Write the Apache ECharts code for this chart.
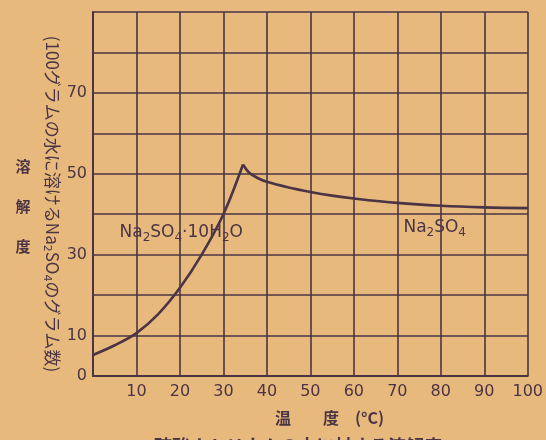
<!DOCTYPE html>
<html>
<head>
<meta charset="utf-8">
<script src="https://cdn.jsdelivr.net/npm/echarts@6/dist/echarts.min.js"></script>
<style>
html,body{margin:0;padding:0;background:#e8b97c;}
#c{width:546px;height:440px;}
</style>
</head>
<body>
<div id="c"></div>
<script>
// Data
const hydrateTemps = [0, 5, 10, 15, 20, 25, 30, 34.5];
const hydrateSolubility = [5.2, 7.6, 10.6, 15.3, 21.8, 30.0, 40.0, 52.3];
const anhydrousTemps = [34.5, 36, 38, 40, 45, 50, 55, 60, 70, 80, 90, 100];
const anhydrousSolubility = [52.3, 50.2, 48.9, 48.0, 46.6, 45.5, 44.6, 43.9, 42.8, 42.1, 41.7, 41.5];
const xTickLabels = ['10', '20', '30', '40', '50', '60', '70', '80', '90', '100'];
const yTickLabels = ['0', '10', '30', '50', '70'];
const hydrateLabelPos = [20.3, 35.4];
const anhydrousLabelPos = [78.6, 36.6];

const ink = '#4a3445';
const chart = echarts.init(document.getElementById('c'), null, {renderer: 'canvas'});
const numFont = 'DejaVu Sans';
const jpFont = 'Noto Sans CJK JP';

function pairs(xs, ys) { return xs.map((x, i) => [x, ys[i]]); }

const labelRich = {
  s: {fontFamily: numFont, fontSize: 12, color: ink, padding: [10, 0, 0, 0]}
};

function markLabel(pos, fmt) {
  return {
    symbol: 'circle', symbolSize: 0,
    data: [{coord: pos, value: 0}],
    label: {
      show: true, position: 'inside', formatter: fmt,
      rich: labelRich, fontFamily: numFont, fontSize: 17, color: ink
    }
  };
}

chart.setOption({
  backgroundColor: '#e8b97c',
  animation: false,
  grid: {left: 93, right: 18, top: 12, bottom: 64},
  xAxis: {
    type: 'value', min: 0, max: 100, interval: 10,
    axisLine: {show: true, lineStyle: {color: ink, width: 2}},
    axisTick: {show: false},
    splitLine: {show: true, lineStyle: {color: ink, width: 1.6}},
    axisLabel: {
      color: ink, fontFamily: numFont, fontSize: 16, margin: 8,
      formatter: v => xTickLabels.includes(String(v)) ? String(v) : ''
    }
  },
  yAxis: {
    type: 'value', min: 0, max: 90, interval: 10,
    axisLine: {show: true, lineStyle: {color: ink, width: 2}},
    axisTick: {show: false},
    splitLine: {show: true, lineStyle: {color: ink, width: 1.6}},
    axisLabel: {
      color: ink, fontFamily: numFont, fontSize: 16, margin: 6,
      formatter: v => yTickLabels.includes(String(v)) ? String(v) : ''
    }
  },
  series: [
    {
      type: 'line', data: pairs(hydrateTemps, hydrateSolubility), smooth: 0.35,
      showSymbol: false, lineStyle: {color: ink, width: 2.6},
      markPoint: markLabel(hydrateLabelPos, 'Na{s|2}SO{s|4}·10H{s|2}O')
    },
    {
      type: 'line', data: pairs(anhydrousTemps, anhydrousSolubility), smooth: 0.35,
      showSymbol: false, lineStyle: {color: ink, width: 2.6},
      markPoint: markLabel(anhydrousLabelPos, 'Na{s|2}SO{s|4}')
    }
  ],
  graphic: [
    {
      type: 'text', x: 275, y: 418,
      style: {text: '温　　度　(°C)', fontFamily: jpFont, fontSize: 16, fontWeight: 'bold',
        fill: ink, textAlign: 'left', textVerticalAlign: 'middle'}
    },
    {
      type: 'text', x: 298, y: 446,
      style: {text: '硫酸ナトリウムの水に対する溶解度', fontFamily: jpFont, fontSize: 18, fontWeight: 'bold',
        fill: ink, textAlign: 'center', textVerticalAlign: 'middle'}
    },
    {
      type: 'text', x: 23, y: 206,
      style: {text: '溶\n\n解\n\n度', fontFamily: jpFont, fontSize: 15, fontWeight: 'bold', lineHeight: 20,
        fill: ink, textAlign: 'center', textVerticalAlign: 'middle'}
    },
    {
      type: 'text', x: 52, y: 204, rotation: -Math.PI / 2,
      style: {
        text: '(100グラムの水に溶けるNa{s|2}SO{s|4}のグラム数)',
        rich: {s: {fontSize: 11, fontFamily: numFont, fill: ink, padding: [10, 0, 0, 0]}},
        fontFamily: jpFont, fontSize: 17, fill: ink,
        textAlign: 'center', textVerticalAlign: 'middle'
      }
    }
  ]
});
</script>
</body>
</html>
